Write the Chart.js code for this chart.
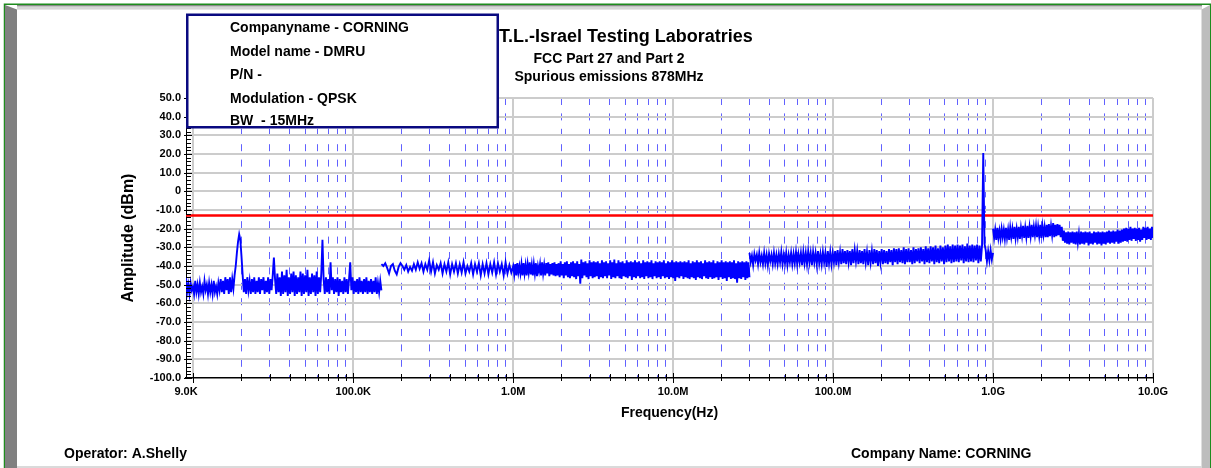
<!DOCTYPE html>
<html>
<head>
<meta charset="utf-8">
<title>Spurious emissions 878MHz</title>
<script src="https://cdn.jsdelivr.net/npm/chart.js@4.4.1/dist/chart.umd.min.js"></script>
<style>
  html, body { margin: 0; padding: 0; background: #fff; }
  #wrap { position: relative; width: 1211px; height: 468px; }
</style>
</head>
<body>
<div id="wrap"><canvas id="chart"></canvas></div>
<script>
// sweep ranges (Hz) and the amplitudes (dBm)
const band1Range = [9e3, 150e3];
const band1Dbm = [
  -46, -54, -50, -55, -49, -53, -51, -55, -48, -54,
  -50, -55, -49, -54, -51, -55, -48, -53, -50, -55,
  -49, -54, -50, -55, -48, -54, -51, -55, -49, -53,
  -47, -54, -48, -55, -46, -53, -47, -55, -46, -54,
  -47, -52, -45, -40, -33, -27, -23, -26, -35, -45,
  -54, -47, -55, -46, -53, -48, -55, -47, -54, -46,
  -55, -48, -54, -46, -55, -47, -53, -46, -55, -48,
  -54, -46, -55, -47, -53, -45, -35.5, -47, -55, -44,
  -54, -46, -56, -43, -55, -45, -54, -42, -56, -46,
  -55, -44, -54, -43, -56, -45, -55, -46, -54, -43,
  -56, -44, -55, -45, -54, -42, -56, -46, -55, -44,
  -54, -45, -56, -43, -55, -46, -54, -44, -26, -47,
  -55, -46, -54, -47, -55, -38, -53, -46, -55, -47,
  -54, -46, -56, -47, -54, -48, -55, -46, -54, -47,
  -55, -47, -38, -53, -46, -55, -48, -54, -47, -55,
  -46, -54, -48, -55, -47, -54, -46, -55, -48, -54,
  -47, -55, -48, -54, -46, -55, -49, -54, -48, -53
];

const band2Range = [150e3, 1e6];
const band2Dbm = [
  -39, -40, -38.5, -41, -44, -40, -39, -42.5, -44.5, -40.5,
  -38.5, -40, -42, -39.5, -43, -40.5, -42.5, -39, -42, -38,
  -41.5, -38.5, -43, -39, -42, -37, -43, -38, -44, -39.5,
  -42, -38.5, -44, -39, -43, -38, -44.5, -39, -43, -38.5,
  -44, -39, -43.5, -38, -44, -40, -43, -38.5, -44.5, -39,
  -43, -38.5, -45, -39, -44, -38.5, -44.5, -39, -43.5, -38,
  -44.5, -38.5, -43, -39, -45, -38, -44, -39.5, -43.5, -40
];

const band3Range = [1e6, 30e6];
const band3Dbm = [
  -40, -44.5, -39, -45, -38.5, -43.5, -40, -44, -39, -45,
  -38.5, -44, -39.5, -45, -39, -43.5, -38, -44.5, -39.5, -45,
  -39, -44, -38.5, -45.5, -40, -43, -39, -45, -38, -44,
  -39.5, -45, -38.5, -44, -38, -45.5, -39, -44.5, -38.5, -45,
  -38, -45.5, -39, -45, -38.5, -46, -37.5, -45, -39, -46.5,
  -38, -45, -37.5, -46, -39, -46.5, -38, -45.5, -37.5, -46,
  -38.5, -47, -37.5, -45.5, -39, -49.5, -36.5, -46.5, -38, -45,
  -37.5, -46, -38.5, -47, -37, -45.5, -38, -46.5, -37.5, -46,
  -38, -45.5, -37.5, -47, -38.5, -46, -37, -46.5, -38, -45.5,
  -37.5, -46.5, -38.5, -45, -37, -47, -38, -46, -36.5, -46.5,
  -38.5, -45.5, -37, -46.5, -38, -47, -37.5, -45.5, -38.5, -46,
  -37, -46.5, -38, -45.5, -37.5, -47.5, -38, -46, -37, -46.5,
  -38, -45.5, -37.5, -46.5, -38.5, -46, -37, -47, -38, -45.5,
  -37.5, -46.5, -38, -46, -37, -47, -38.5, -45.5, -37.5, -46.5,
  -38, -46, -37.5, -47, -38, -45.5, -37, -46.5, -38.5, -46,
  -37.5, -47, -38, -46, -37, -46.5, -38, -48, -37.5, -46,
  -38, -46.5, -37.5, -45.5, -38, -47, -37.5, -46, -38, -46.5,
  -37, -47, -38.5, -46, -37.5, -46.5, -38, -47.5, -37, -46,
  -38, -46.5, -37.5, -47, -38.5, -45.5, -37, -46.5, -38, -47,
  -37.5, -46, -38, -47, -37, -46.5, -38.5, -46, -37.5, -47.5,
  -38, -46, -37, -47, -38, -46.5, -37.5, -48, -38, -46,
  -37.5, -47, -38, -46.5, -37, -47, -38.5, -49, -37.5, -46.5,
  -38, -47, -37.5, -46, -38, -47.5, -37.5, -46.5, -38, -46
];

const band4Range = [30e6, 1e9];
const band4Dbm = [
  -33, -38, -34.5, -39.5, -33.5, -37, -34, -39, -33, -38,
  -34.5, -39, -33, -38.5, -34, -39.5, -33.5, -37.5, -34, -39,
  -33, -38.5, -34, -39, -33.5, -38, -32.5, -39, -34, -38.5,
  -33, -39.5, -34, -38, -33, -39, -33.5, -38.5, -32.5, -39,
  -33.5, -38, -33, -39.5, -32.5, -38.5, -33, -39, -32, -38,
  -33, -39.5, -32.5, -38, -33, -39, -32, -38.5, -33.5, -39,
  -32.5, -38, -33, -40.5, -32, -38.5, -32.5, -39, -33, -38,
  -32, -39.5, -31.5, -38, -32.5, -39, -31, -38.5, -32, -39,
  -31.5, -38, -32, -39.5, -31, -38.5, -31.5, -37.5, -32, -39,
  -31.5, -38.5, -32, -39, -31, -38, -32.5, -39.5, -31.5, -38,
  -32, -39, -31, -38.5, -31.5, -40, -32, -38, -31, -39,
  -31.5, -38.5, -32, -39, -31, -38, -31.5, -39.5, -30.5, -38,
  -31, -39, -30.5, -38, -31.5, -38.5, -30, -39, -31, -38,
  -30.5, -38, -31.5, -39, -30, -38.5, -31, -37.5, -30.5, -38.5,
  -30, -37.5, -31, -39, -29.5, -38, -30.5, -38.5, -29.5, -37.5,
  -30, -39, -29, -38, -30.5, -38.5, -29, -37.5, -30, -39,
  -29, -38, -28.5, -37.5, -29.5, -38.5, -28.5, -38, -29, -37.5,
  -28.5, -38, -29, -37, -28.5, -38.5, -29.5, -37.5, -28, -38,
  -29, -37.5, -28.5, -38, -29, -37, -28.5, -38.5, -29, -37.5,
  -29, 20.5, -28, -31.5, -37.5, -32, -37, -31.5, -36.5, -33
];

const band5Range = [1e9, 10e9];
const band5Dbm = [
  -20, -25, -20.5, -26, -19.5, -25, -21, -25.5, -20, -24.5,
  -20.5, -25.5, -19.5, -25, -20.5, -26, -19.5, -24.5, -20, -25.5,
  -19, -25, -20, -24.5, -19, -25.5, -19.5, -24, -18.5, -25,
  -19.5, -24.5, -18.5, -25, -19, -24, -18, -24.5, -19, -23.5,
  -18.5, -24.5, -19, -24, -18, -25, -18.5, -23.5, -19, -24.5,
  -18, -24.5, -17.5, -24, -18.5, -23.5, -17, -24.5, -18, -24,
  -17.5, -23.5, -18, -24.5, -19, -26.5, -21, -27.5, -22, -28,
  -21.5, -28.5, -22, -27.5, -21.5, -28, -22, -28.5, -21.5, -27.5,
  -22.5, -28.5, -21.5, -28, -22, -28.5, -21.5, -27.5, -22, -29,
  -21.5, -28, -22.5, -28.5, -21.5, -27.5, -22, -28.5, -21.5, -28,
  -22, -29, -21.5, -28, -22, -28.5, -21.5, -27.5, -21, -28,
  -21.5, -27.5, -21, -28, -21.5, -27, -20.5, -28, -21, -27.5,
  -20.5, -27, -20, -26.5, -19.5, -27, -20, -26, -19, -26.5,
  -20, -25.5, -19.5, -26.5, -20, -26, -19.5, -27, -20.5, -26,
  -19, -25, -19.5, -26, -19, -25.5, -20, -26, -19, -25
];

const limitDbm = -13;

// axis ticks
const majorFreqs = [9e3, 1e5, 1e6, 1e7, 1e8, 1e9, 1e10];
const majorLabels = ['9.0K', '100.0K', '1.0M', '10.0M', '100.0M', '1.0G', '10.0G'];
const decadeStarts = [1e4, 1e5, 1e6, 1e7, 1e8, 1e9];
const minorSteps = [2, 3, 4, 5, 6, 7, 8, 9];
const ampMin = -100, ampMax = 50;

const infoLines = ['Companyname - CORNING', 'Model name - DMRU', 'P/N -', 'Modulation - QPSK', 'BW  - 15MHz'];

const FONT = '"Liberation Sans", Arial, sans-serif';

// each sweep's samples sit evenly along its own span of the log axis
function sweepPoints(range, values) {
  const n = values.length - 1;
  return values.map((y, i) => ({ x: range[0] * Math.pow(range[1] / range[0], i / n), y: y }));
}

const xTickValues = [9e3];
decadeStarts.forEach(d => {
  xTickValues.push(d);
  minorSteps.forEach(m => xTickValues.push(d * m));
});
xTickValues.push(1e10);

function isDecade(v) {
  return decadeStarts.includes(v) || v === 1e10;
}

const traceStyle = { borderColor: '#0000ff', borderWidth: 1.9, pointRadius: 0, tension: 0, fill: false };

const framePlugin = {
  id: 'frame',
  beforeDraw(chart) {
    const c = chart.ctx;
    c.save();
    c.fillStyle = '#ffffff';
    c.fillRect(0, 0, chart.width, chart.height);
    // outer green border
    c.strokeStyle = '#1e8c1e';
    c.lineWidth = 1.5;
    c.strokeRect(4.5, 4.25, 1206, 470);
    // left bevel
    c.fillStyle = '#808080';
    c.beginPath();
    c.moveTo(5, 5); c.lineTo(17, 9.5); c.lineTo(17, 468); c.lineTo(5, 468);
    c.closePath(); c.fill();
    // top strip
    c.fillStyle = '#8a8a8a';
    c.fillRect(17, 5, 1185, 1.6);
    c.fillStyle = '#d6d6d6';
    c.fillRect(17, 6.6, 1185, 3);
    // right bevel
    c.fillStyle = '#bdbdbd';
    c.beginPath();
    c.moveTo(1201.5, 9.5); c.lineTo(1210, 5); c.lineTo(1210, 468); c.lineTo(1201.5, 468);
    c.closePath(); c.fill();
    // bottom edge
    c.fillStyle = '#dadada';
    c.fillRect(17, 466, 1185, 2);
    c.restore();
  }
};

const decorPlugin = {
  id: 'decor',
  afterDraw(chart) {
    const c = chart.ctx;
    const xs = chart.scales.x, ys = chart.scales.y;
    const area = chart.chartArea;
    c.save();

    // tick marks crossing the axes
    c.strokeStyle = '#000';
    c.lineWidth = 1;
    xTickValues.forEach(v => {
      if (v === 9e3) return;
      const px = Math.round(xs.getPixelForValue(v)) + 0.5;
      const big = isDecade(v);
      c.beginPath();
      c.moveTo(px, area.bottom - (big ? 5 : 4));
      c.lineTo(px, area.bottom + (big ? 5 : 3));
      c.stroke();
    });
    for (let v = ampMin; v <= ampMax; v += 2) {
      const py = Math.round(ys.getPixelForValue(v)) + 0.5;
      const big = v % 10 === 0;
      c.beginPath();
      c.moveTo(area.left - (big ? 2 : 0), py);
      c.lineTo(area.left + (big ? 6 : 5), py);
      c.stroke();
    }

    // titles
    c.fillStyle = '#000';
    c.textBaseline = 'alphabetic';
    c.font = 'bold 18px ' + FONT;
    c.textAlign = 'left';
    c.fillText('T.L.-Israel Testing Laboratries', 499, 41.5);
    c.font = 'bold 14px ' + FONT;
    c.textAlign = 'center';
    c.fillText('FCC Part 27 and Part 2', 609, 62.5);
    c.fillText('Spurious emissions 878MHz', 609, 81);

    // footer
    c.textAlign = 'left';
    c.fillText('Operator: A.Shelly', 64, 458);
    c.fillText('Company Name: CORNING', 851, 458);

    // info box
    c.fillStyle = '#ffffff';
    c.fillRect(187, 14.5, 311, 113);
    c.strokeStyle = '#0a0a80';
    c.lineWidth = 2.5;
    c.strokeRect(187.25, 14.75, 310.5, 112.5);
    c.fillStyle = '#000';
    c.font = 'bold 14px ' + FONT;
    const baselines = [31.5, 55.5, 79, 102.5, 125];
    infoLines.forEach((t, i) => c.fillText(t, 230, baselines[i]));

    c.restore();
  }
};

new Chart(document.getElementById('chart'), {
  type: 'line',
  data: {
    datasets: [
      Object.assign({ label: '9kHz-150kHz', data: sweepPoints(band1Range, band1Dbm) }, traceStyle),
      Object.assign({ label: '150kHz-30MHz', data: sweepPoints(band2Range, band2Dbm).concat(sweepPoints(band3Range, band3Dbm).slice(1)) }, traceStyle),
      Object.assign({ label: '30MHz-1GHz', data: sweepPoints(band4Range, band4Dbm) }, traceStyle),
      Object.assign({ label: '1GHz-10GHz', data: sweepPoints(band5Range, band5Dbm) }, traceStyle),
      {
        label: 'Limit',
        data: [{ x: 9e3, y: limitDbm }, { x: 1e10, y: limitDbm }],
        borderColor: '#ff0000',
        borderWidth: 2.5,
        pointRadius: 0,
        fill: false
      }
    ]
  },
  options: {
    responsive: true,
    maintainAspectRatio: false,
    animation: false,
    events: [],
    layout: { padding: { left: 115, top: 98, right: 58, bottom: 42.6 } },
    plugins: {
      legend: { display: false },
      tooltip: { enabled: false }
    },
    scales: {
      x: {
        type: 'logarithmic',
        min: 9e3,
        max: 1e10,
        afterBuildTicks: scale => { scale.ticks = xTickValues.map(v => ({ value: v })); },
        afterFit: scale => { scale.height = 47.4; },
        grid: {
          drawTicks: false,
          color: ctx => {
            if (!ctx.tick || ctx.tick.value === 9e3) return 'rgba(0,0,0,0)';
            return isDecade(ctx.tick.value) ? '#cccccc' : 'rgba(30,30,255,0.7)';
          },
          lineWidth: ctx => (ctx.tick && isDecade(ctx.tick.value)) ? 2 : 1
        },
        border: {
          display: true,
          color: '#000',
          width: 1.5,
          dash: ctx => (ctx.tick && ctx.tick.value !== 9e3 && !isDecade(ctx.tick.value)) ? [7, 8.4] : []
        },
        ticks: {
          autoSkip: false,
          maxRotation: 0,
          padding: 7,
          color: '#000',
          font: { family: FONT, size: 11, weight: 'bold' },
          callback: value => {
            const k = majorFreqs.indexOf(value);
            return k >= 0 ? majorLabels[k] : '';
          }
        },
        title: {
          display: true,
          text: 'Frequency(Hz)',
          color: '#000',
          font: { family: FONT, size: 14, weight: 'bold' }
        }
      },
      y: {
        min: ampMin,
        max: ampMax,
        afterFit: scale => { scale.width = 71; },
        grid: {
          drawTicks: false,
          color: ctx => (ctx.tick && ctx.tick.value !== ampMin) ? '#cccccc' : 'rgba(0,0,0,0)',
          lineWidth: 2
        },
        border: { display: true, color: '#000', width: 1 },
        ticks: {
          stepSize: 10,
          padding: 5,
          color: '#000',
          font: { family: FONT, size: 11, weight: 'bold' },
          callback: v => v === 0 ? '0' : v.toFixed(1)
        },
        title: {
          display: true,
          text: 'Amplitude (dBm)',
          color: '#000',
          font: { family: FONT, size: 16, weight: 'bold' }
        }
      }
    }
  },
  plugins: [framePlugin, decorPlugin]
});
</script>
</body>
</html>
